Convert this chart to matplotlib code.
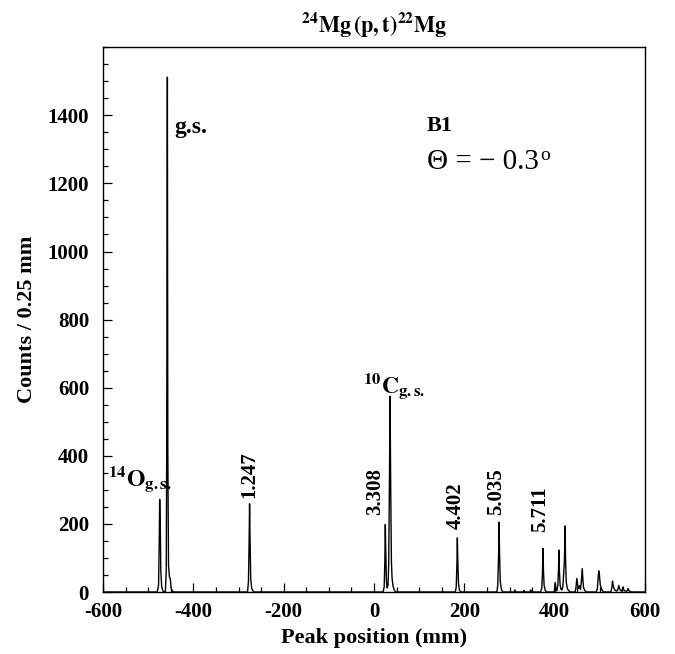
import matplotlib
matplotlib.use("Agg")
import matplotlib.pyplot as plt
from matplotlib.ticker import MultipleLocator

plt.rcParams['font.family'] = ['Liberation Serif', 'DejaVu Serif']
plt.rcParams['font.weight'] = 'bold'
plt.rcParams['mathtext.fontset'] = 'stix'
plt.rcParams['axes.unicode_minus'] = False

# spectrum (position in mm, counts per 0.25 mm)
spec_x = [-600, -480, -477, -475.5, -474.5, -473, -472, -470, -467, -464,
          -462, -460, -459, -457.5, -456.5, -455, -453, -451, -449, -446, -443,
          -280, -278, -276.5, -275.5, -274.5, -273, -271, -268, -265,
          20, 22.5, 24, 25, 26, 27.5, 29, 31, 32.5, 34, 35.5, 37, 38.5, 40, 42, 45, 48,
          180, 182, 183.5, 184.5, 185.5, 187, 189, 192,
          272, 274, 275.8, 276.8, 277.8, 279.5, 282, 285,
          310, 312, 314, 330, 332, 334, 345, 347, 349,
          369, 371.5, 373, 374, 375, 376.5, 379, 382,
          399, 401, 403, 405, 407, 408.5, 409.5, 410.5, 412, 414, 416, 418, 421.5, 423, 424, 425.5, 428, 431, 435,
          445, 447, 449, 450.5, 452, 455, 457, 459, 461, 462.5, 464, 467, 470,
          492, 494.5, 496.5, 497.5, 499, 501, 504, 508,
          524, 526.5, 528, 529.5, 532, 535, 538, 540, 542, 543.5, 546, 548, 550, 551.5, 553, 556, 559, 561, 562.5, 564, 567, 570,
          600]
spec_y = [0, 0, 20, 150, 272, 180, 60, 15, 2, 0,
          0, 60, 415, 1512, 415, 80, 45, 38, 10, 2, 0,
          0, 30, 150, 259, 160, 40, 12, 3, 0,
          0, 15, 90, 198, 120, 30, 12, 20, 80, 300, 575, 300, 90, 40, 18, 5, 0,
          0, 15, 80, 159, 90, 25, 6, 0,
          0, 20, 110, 205, 120, 30, 8, 0,
          0, 6, 0, 0, 5, 0, 0, 6, 0,
          0, 12, 60, 128, 70, 20, 5, 0,
          0, 28, 5, 4, 20, 70, 123, 60, 20, 8, 6, 15, 90, 194, 100, 30, 10, 4, 0,
          0, 12, 40, 25, 10, 18, 8, 30, 69, 35, 12, 4, 0,
          0, 10, 45, 62, 50, 20, 8, 0,
          0, 12, 32, 20, 8, 4, 3, 8, 19, 10, 4, 3, 8, 15, 6, 3, 2, 5, 10, 4, 2, 0,
          0]

# excitation energy labels (rotated) above their peaks
level_names = ['1.247', '3.308', '4.402', '5.035', '5.711']
level_x = [-276, 1.5, 181, 269.5, 368]
level_y = [277, 225, 184, 225, 176]

fig = plt.figure(figsize=(6.75, 6.54), dpi=100)
ax = fig.add_axes([0.1526, 0.0948, 0.803, 0.833])

ax.plot(spec_x, spec_y, color='black', lw=1.0)

ax.set_xlim(-600, 600)
ax.set_ylim(0, 1600)
ax.xaxis.set_major_locator(MultipleLocator(200))
ax.xaxis.set_minor_locator(MultipleLocator(50))
ax.yaxis.set_minor_locator(MultipleLocator(50))
ax.set_yticks(range(0, 1401, 200))
ax.tick_params(which='both', direction='in', top=False, right=False, labelsize=15)
ax.tick_params(which='major', length=6.5, width=0.9)
ax.tick_params(which='minor', length=3.6, width=0.9)
ax.tick_params(axis='y', pad=10)
ax.tick_params(axis='x', pad=7.5)
for s in ax.spines.values():
    s.set_linewidth(1.0)

ax.set_xlabel('Peak position (mm)', fontsize=16, fontweight='bold', labelpad=4)
ax.set_ylabel('Counts / 0.25 mm', fontsize=16, fontweight='bold', labelpad=8)

fig.text(0.554, 0.962, r'$\mathbf{^{24}Mg\,(p,t)^{22}Mg}$', ha='center', va='center', fontsize=16)

ax.text(-441, 1349, 'g.s.', fontsize=17, fontweight='bold', ha='left', va='baseline')
ax.text(-589, 312, r'$\mathbf{^{14}O_{g.s.}}$', fontsize=17, ha='left', va='baseline')
ax.text(-25, 584, r'$\mathbf{^{10}C_{g.s.}}$', fontsize=17, ha='left', va='baseline')
ax.text(117, 1370, 'B1', fontsize=16, fontweight='bold', ha='left', va='center')
theta = ax.text(117, 1262, '\u0398 = \u2212 0.3', fontsize=21, fontweight='normal',
                ha='left', va='center')
ax.annotate('o', xy=(1.0, 1.0), xycoords=theta, xytext=(1, 2), textcoords='offset points',
            fontsize=14, fontweight='normal', ha='left', va='top')

for name, x, y in zip(level_names, level_x, level_y):
    ax.text(x, y, name, rotation=90, fontsize=15, fontweight='bold', ha='center', va='bottom')

fig.savefig('out.png', dpi=100)
